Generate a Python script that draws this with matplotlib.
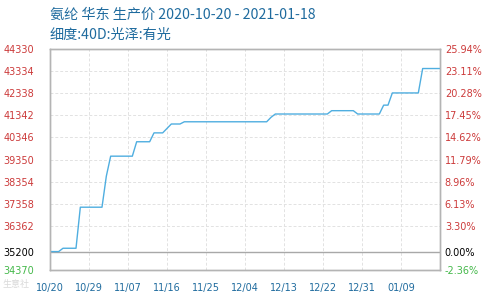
import numpy as np
import pandas as pd
import matplotlib
matplotlib.use("Agg")
import matplotlib.pyplot as plt

plt.rcParams['font.family'] = ['Noto Sans CJK SC', 'DejaVu Sans']

# dados (preço em yuan/tonelada)
dates = ['2020-10-20', '2020-10-22', '2020-10-23', '2020-10-26', '2020-10-27',
         '2020-11-01', '2020-11-02', '2020-11-03', '2020-11-08', '2020-11-09',
         '2020-11-12', '2020-11-13', '2020-11-15', '2020-11-16', '2020-11-17',
         '2020-11-19', '2020-11-20', '2020-12-09', '2020-12-10', '2020-12-11',
         '2020-12-23', '2020-12-24', '2020-12-29', '2020-12-30', '2021-01-04',
         '2021-01-05', '2021-01-06', '2021-01-07', '2021-01-13', '2021-01-14',
         '2021-01-18']
prices = [35200, 35200, 35350, 35350, 37200,
          37200, 38600, 39500, 39500, 40150,
          40150, 40550, 40550, 40750, 40950,
          40950, 41050, 41050, 41250, 41400,
          41400, 41550, 41550, 41400, 41400,
          41800, 41800, 42350, 42350, 43450,
          43450]

base_price = 35200
y_min, y_max = 34370, 44330
y_ticks = [44330, 43334, 42338, 41342, 40346, 39350, 38354, 37358, 36362, 35200, 34370]
x_ticks = ['2020-10-20', '2020-10-29', '2020-11-07', '2020-11-16', '2020-11-25',
           '2020-12-04', '2020-12-13', '2020-12-22', '2020-12-31', '2021-01-09']

title1 = '氨纶 华东 生产价 2020-10-20 - 2021-01-18'
title2 = '细度:40D:光泽:有光'

red = '#cc3a3a'
green = '#44b84a'
blue_txt = '#1f6b9e'

d = pd.to_datetime(dates)
xt = pd.to_datetime(x_ticks)

fig = plt.figure(figsize=(4.9, 3), dpi=100)
ax = fig.add_axes([50 / 490, 30 / 300, 390 / 490, 221 / 300])

ax.plot(d, prices, color='#4faee0', lw=1.0, zorder=3)
ax.axhline(base_price, color='#a8a8a8', lw=1.0, zorder=2)

ax.set_xlim(pd.Timestamp('2020-10-20'), pd.Timestamp('2021-01-18'))
ax.set_ylim(y_min, y_max)

# grade tracejada
for v in y_ticks:
    ax.axhline(v, color='#e2e2e2', lw=0.7, ls=(0, (3, 2)), zorder=1)
for t in xt:
    ax.axvline(t, color='#e2e2e2', lw=0.7, ls=(0, (3, 2)), zorder=1)

ax.set_yticks(y_ticks)
ax.set_yticklabels([str(v) for v in y_ticks], fontsize=7, family='DejaVu Sans')
ax.set_xticks(xt)
ax.set_xticklabels([t.strftime('%m/%d') for t in xt], fontsize=7,
                   family='DejaVu Sans', color=blue_txt)
ax.tick_params(axis='both', length=0)
ax.tick_params(axis='y', pad=11.5)
ax.tick_params(axis='x', pad=9)

def color_for(v):
    if v > base_price:
        return red
    if v < base_price:
        return green
    return 'black'

for lab, v in zip(ax.get_yticklabels(), y_ticks):
    lab.set_color(color_for(v))

ax2 = ax.twinx()
ax2.set_ylim(y_min, y_max)
ax2.set_yticks(y_ticks)
ax2.set_yticklabels(['%.2f%%' % ((v / base_price - 1) * 100) for v in y_ticks],
                    fontsize=7, family='DejaVu Sans')
ax2.tick_params(axis='y', length=0, pad=3.5)
for lab, v in zip(ax2.get_yticklabels(), y_ticks):
    lab.set_color(color_for(v))

for a in (ax, ax2):
    for s in a.spines.values():
        s.set_color('#b4b4b4')
        s.set_linewidth(1.0)

fig.text(50 / 490, 1 - 15 / 300, title1, fontsize=10.2, color=blue_txt, va='center')
fig.text(50 / 490, 1 - 35 / 300, title2, fontsize=10.2, color=blue_txt, va='center')

# marca d'água
fig.text(2 / 490, 1 - 285 / 300, '生意社', fontsize=6.5, color='#d0d0d0', va='center', alpha=0.8)

fig.savefig('out.png', dpi=100)
